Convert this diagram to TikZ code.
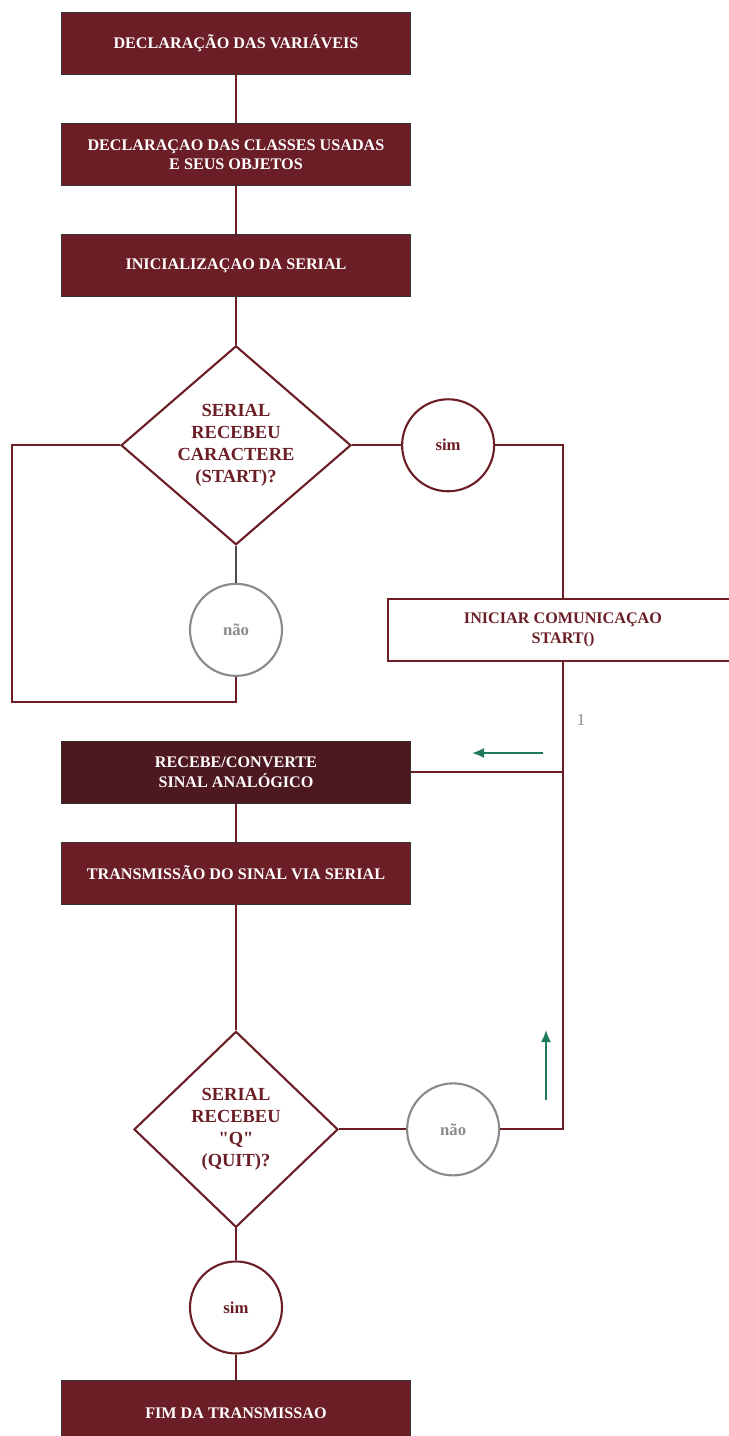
\documentclass[tikz,border=0pt]{standalone}
\usepackage{fontspec}
\setmainfont{Liberation Serif}[Ligatures=TeXOff]
\usetikzlibrary{shapes,arrows,arrows.meta,positioning}
\usepackage{xcolor}
\definecolor{vinho}{HTML}{6B1E26}
\definecolor{vinhoesc}{HTML}{4E1820}
\definecolor{cinza}{HTML}{8A8A8A}
\definecolor{verde}{HTML}{1F7A5C}

\begin{document}
\begin{tikzpicture}[
    x=0.2mm, y=-0.2mm,
    node distance=9.6mm,
    box/.style={rectangle, draw=black!80, fill=vinho, text=white, font=\bfseries\fontsize{9.2}{11}\selectfont, align=center, minimum width=69.8mm, minimum height=12.4mm},
    decision/.style={diamond, draw=vinho, line width=1.2pt, fill=white, text=vinho, font=\bfseries\fontsize{10.5}{12.5}\selectfont, align=center, inner sep=0pt},
    yes/.style={circle, draw=vinho, line width=1.2pt, text=vinho, font=\bfseries\fontsize{9.5}{10}\selectfont, minimum size=18.4mm, inner sep=0pt},
    no/.style={yes, draw=cinza, text=cinza},
    line/.style={draw=vinho, line width=1.2pt},
    hint/.style={draw=verde, line width=1pt, -{Latex[length=2.4mm,width=2mm]}}
  ]
    \useasboundingbox (0,0) rectangle (729,1436);

    \node [box] (decl) at (236,43) {DECLARAÇÃO DAS VARIÁVEIS};
    \node [box, below=9.8mm of decl] (classes) {DECLARAÇAO DAS CLASSES USADAS\\E SEUS OBJETOS};
    \node [box, below=of classes] (initserial) {INICIALIZAÇAO DA SERIAL};
    \node [decision, below=of initserial, minimum width=46mm, minimum height=39.2mm] (dstart) {SERIAL\\RECEBEU\\CARACTERE\\(START)?};
    \node [no, below=7.4mm of dstart] (naostart) {não};
    \node [yes, right=9.8mm of dstart] (simstart) {sim};
    \node [box, fill=white, draw=vinho, line width=1.2pt, text=vinho, minimum width=70mm] (iniciar) at (563,630) {INICIAR COMUNICAÇAO\\START()};

    \node [box, fill=vinhoesc, below=12.8mm of naostart] (recebe) {RECEBE/CONVERTE\\SINAL ANALÓGICO};
    \node [box, below=7.6mm of recebe] (transm) {TRANSMISSÃO DO SINAL VIA SERIAL};
    \node [decision, below=25.2mm of transm, minimum width=40.8mm, minimum height=39.2mm] (dquit) {SERIAL\\RECEBEU\\"Q"\\(QUIT)?};
    \node [no, right=13.4mm of dquit] (naoquit) {não};
    \node [yes, below=6.4mm of dquit] (simquit) {sim};
    \node [box, below=5mm of simquit, minimum height=13.4mm] (fim) {FIM DA TRANSMISSAO};

    \coordinate (loopL) at (12,702);
    \node [text=cinza, font=\fontsize{9.5}{10}\selectfont] (one) at (581,720) {1};

    \path [line] (decl) -- (classes);
    \path [line] (classes) -- (initserial);
    \path [line] (initserial) -- (dstart);
    \path [draw=black!70, line width=1.2pt] (dstart) -- (naostart);
    \path [line] (naostart.south) |- (loopL) |- (dstart.west);
    \path [line] (dstart.east) -- (simstart);
    \path [line] (simstart.east) -| (iniciar.north);
    \path [line] (iniciar.south) |- (recebe.east);
    \path [line] (recebe) -- (transm);
    \path [line] (transm) -- (dquit);
    \path [line] (dquit) -- (naoquit);
    \path [line] (naoquit.east) -| (iniciar.south);
    \path [line] (dquit) -- (simquit);
    \path [line] (simquit) -- (fim);

    \coordinate (back1) at (543,753);
    \coordinate (back2) at (472,753);
    \coordinate (up1) at (546,1100);
    \coordinate (up2) at (546,1030);
    \path [hint] (back1) -- (back2);
    \path [hint] (up1) -- (up2);
\end{tikzpicture}
\end{document}
